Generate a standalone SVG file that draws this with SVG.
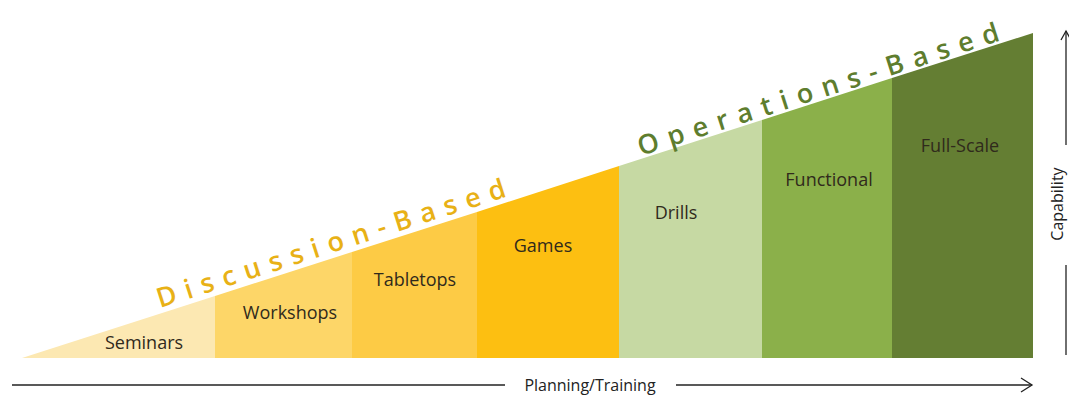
<svg xmlns="http://www.w3.org/2000/svg" width="1069" height="397" viewBox="0 0 1069 397">
<defs>
<style>
.lbl{font-family:"Open Sans","Liberation Sans",sans-serif;font-size:18px;fill:#302a1c;text-anchor:middle}
.cat{font-family:"Open Sans","Liberation Sans",sans-serif;font-size:27px;font-weight:600}
.ax{stroke:#222;stroke-width:1.3;fill:none}
.axt{font-family:"Open Sans","Liberation Sans",sans-serif;font-size:16px;fill:#222}
</style>
</defs>
<rect width="1069" height="397" fill="#fff"/>
<g id="seminars"><polygon points="22,358 215,296 215,358" fill="#FCE8B2"/><text class="lbl" x="144" y="349">Seminars</text></g>
<g id="workshops"><polygon points="215,296 352,252 352,358 215,358" fill="#FDD668"/><text class="lbl" x="290" y="319">Workshops</text></g>
<g id="tabletops"><polygon points="352,252 477,212 477,358 352,358" fill="#FDCB45"/><text class="lbl" x="415" y="286">Tabletops</text></g>
<g id="games"><polygon points="477,212 619,166 619,358 477,358" fill="#FDBF11"/><text class="lbl" x="543" y="252">Games</text></g>
<g id="drills"><polygon points="619,166 762,120 762,358 619,358" fill="#C6D9A3"/><text class="lbl" x="676" y="219">Drills</text></g>
<g id="functional"><polygon points="762,120 892,78 892,358 762,358" fill="#8BB04A"/><text class="lbl" x="829" y="186">Functional</text></g>
<g id="fullscale"><polygon points="892,78 1033,33 1033,358 892,358" fill="#647E33"/><text class="lbl" x="960" y="152">Full-Scale</text></g>
<g id="discussion"><text class="cat" fill="#E8B116" transform="translate(160,308) rotate(-17.8)" textLength="365" lengthAdjust="spacing">Discussion-Based</text></g>
<g id="operations"><text class="cat" fill="#5E7D2E" transform="translate(641,156) rotate(-17.8)" textLength="378" lengthAdjust="spacing">Operations-Based</text></g>
<g id="connectors">
<line class="ax" x1="12" y1="385" x2="505" y2="385"/>
<line class="ax" x1="676" y1="385" x2="1032" y2="385"/>
<polyline class="ax" points="1021,378 1032,385 1021,392"/>
<line class="ax" x1="1066" y1="355" x2="1066" y2="265"/>
<line class="ax" x1="1066" y1="145" x2="1066" y2="31"/>
<polyline class="ax" points="1061,40 1066,31 1071,40"/>
</g>
<text class="axt" x="590" y="391" text-anchor="middle">Planning/Training</text>
<text class="axt" transform="translate(1063,204) rotate(-90)" text-anchor="middle">Capability</text>
</svg>
